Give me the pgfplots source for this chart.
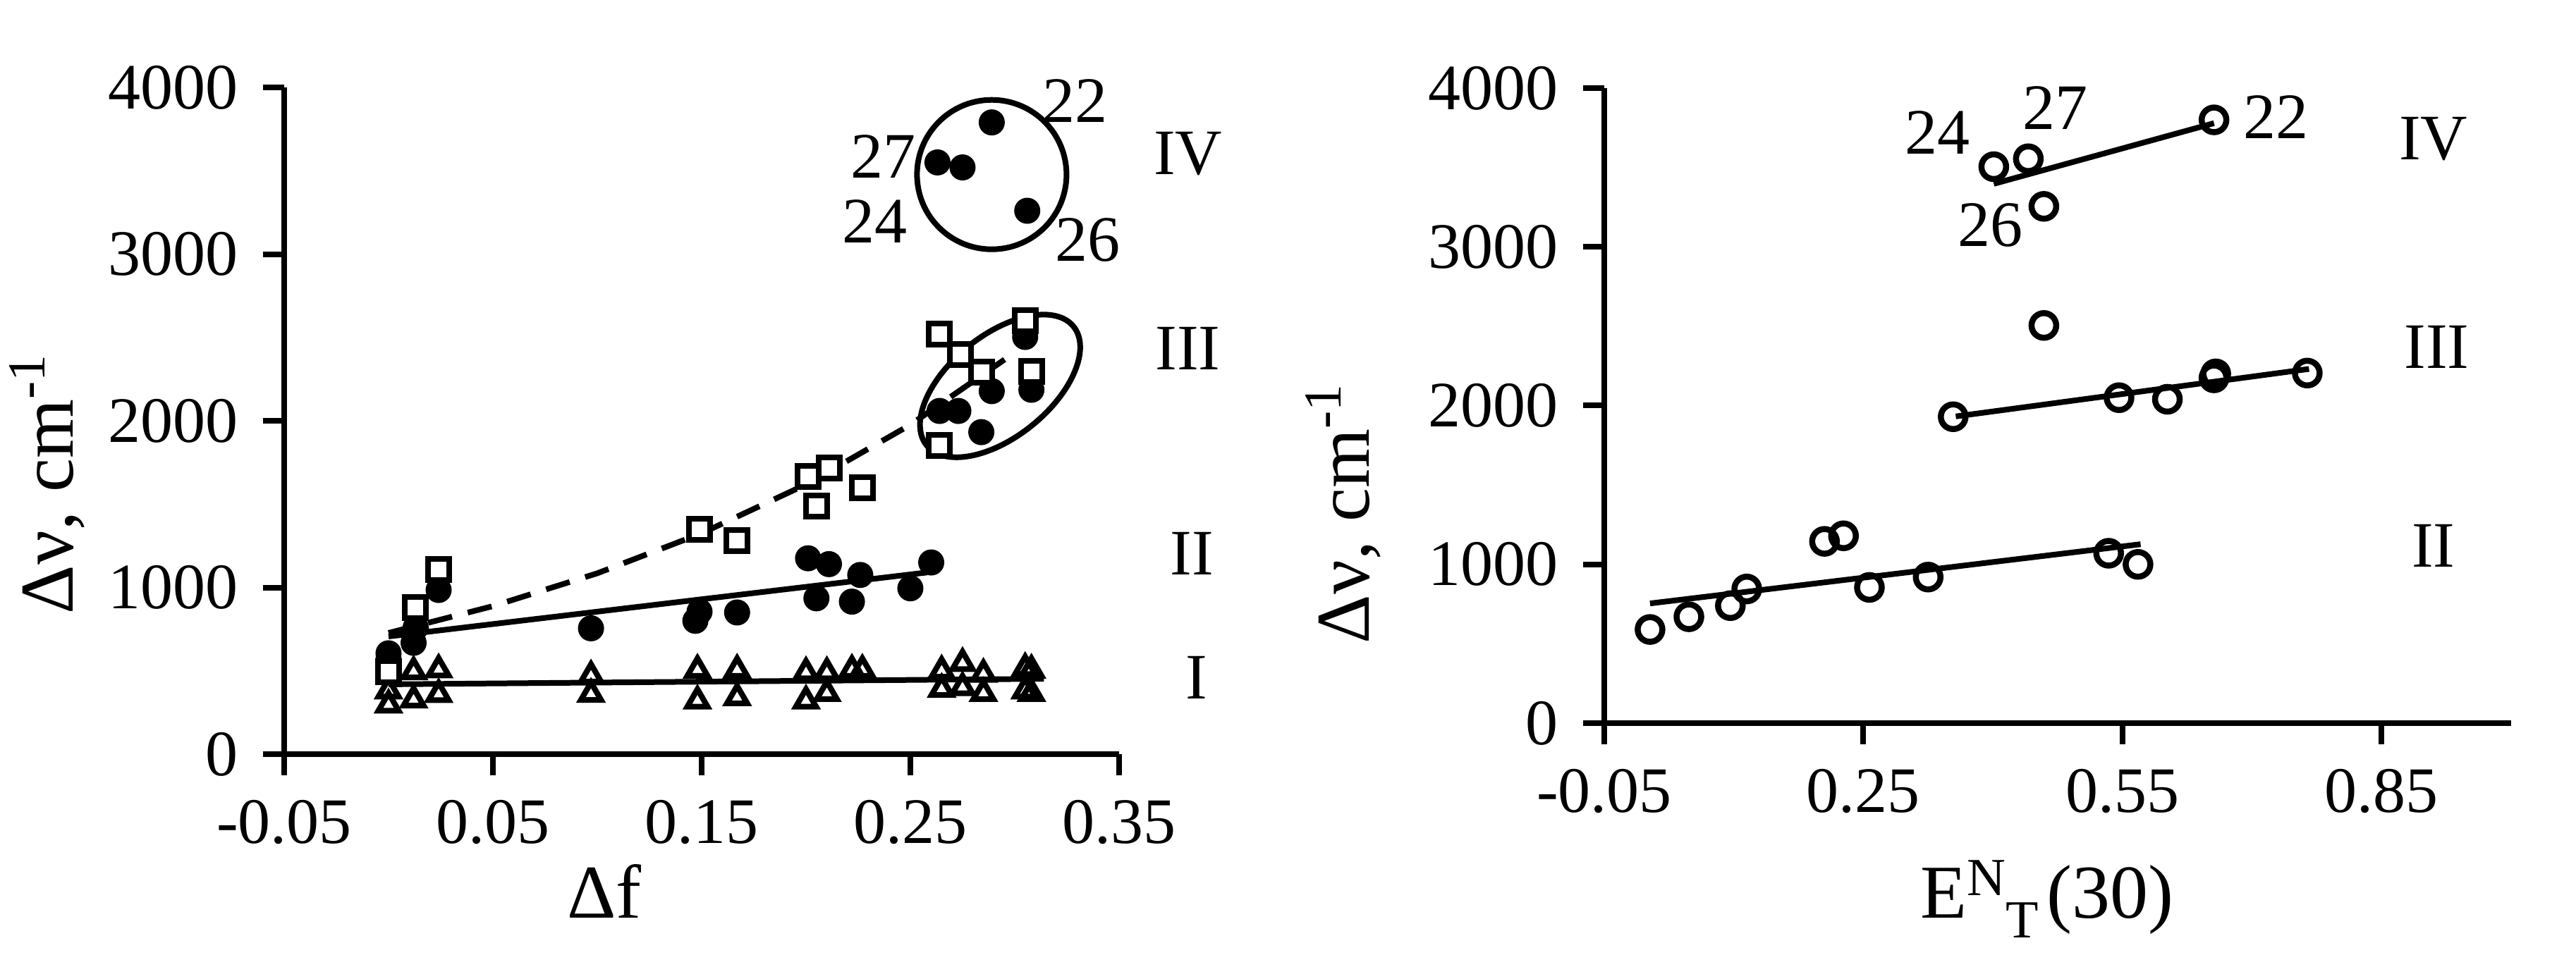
\documentclass[border=0pt]{standalone}
\usepackage{fontspec}
\setmainfont{Liberation Serif}
\usepackage{pgfplots}
\pgfplotsset{compat=1.18}
\usetikzlibrary{shapes.geometric}

\newcommand{\tickfont}{\fontsize{9.2}{11}\selectfont}
\newcommand{\labfont}{\fontsize{10.8}{13}\selectfont}

\tikzset{lbl/.style={font=\tickfont}}
\pgfplotsset{
  panel/.style={
    scale only axis,
    axis lines*=left,
    axis line style={line width=0.8pt,-},
    tick style={line width=0.8pt,black},
    major tick length=3pt,
    tick align=outside,
    ymin=0, ymax=4000,
    ytick={0,1000,2000,3000,4000},
    clip=false,
    /pgf/number format/assume math mode=true,
    ticklabel style={font=\tickfont},
    yticklabel style={/pgf/number format/1000 sep={}},
    xticklabel style={/pgf/number format/.cd,fixed,fixed zerofill,precision=2},
  },
}

\begin{document}
\begin{tikzpicture}
\path[use as bounding box] (0,0) rectangle (365.3pt,137.1pt);

% left panel: delta nu vs delta f
\begin{axis}[panel, at={(40.3pt,30.1pt)}, anchor=south west,
  width=118.4pt, height=94.6pt,
  xmin=-0.05, xmax=0.35, xtick={-0.05,0.05,0.15,0.25,0.35}]
% group I, triangles
\addplot[only marks, mark=triangle, mark size=1.65pt, mark options={line width=0.8pt}]
  coordinates {
  (0,296) (0,380) (0.012,495) (0.012,326) (0.024,507) (0.024,359)
  (0.097,470) (0.097,360) (0.148,505) (0.148,320) (0.167,505) (0.167,340)
  (0.200,490) (0.200,320) (0.210,490) (0.210,365) (0.222,505) (0.227,505)
  (0.265,500) (0.265,390) (0.275,545) (0.275,400) (0.285,480) (0.285,365)
  (0.305,515) (0.305,380) (0.308,505) (0.308,365)
  };
\addplot[no marks, line width=0.8pt] coordinates {(0,419) (0.314,452)};
% filled circles (groups II, III, IV)
\addplot[only marks, mark=*, mark size=1.75pt, mark options={line width=0.2pt}]
  coordinates {
  (0,605) (0,570) (0.012,668) (0.013,760) (0.024,985) (0.097,755)
  (0.147,800) (0.149,855) (0.167,850) (0.201,1175) (0.211,1140) (0.205,935)
  (0.226,1075) (0.222,915) (0.250,995) (0.260,1150)
  (0.264,2059) (0.273,2059) (0.284,1932) (0.289,2178) (0.305,2503) (0.308,2186)
  (0.289,3790) (0.263,3550) (0.275,3520) (0.306,3260)
  };
\addplot[no marks, line width=0.8pt] coordinates {(0,706) (0.258,1090)};
% trend of the squares
\addplot[no marks, line width=0.8pt, dash pattern=on 3.5pt off 2.3pt]
  coordinates {(0,727) (0.05,888) (0.10,1085) (0.15,1325) (0.20,1618) (0.25,1976) (0.296,2375)};
\addplot[only marks, mark=square*, mark size=1.5pt, mark options={fill=white, line width=0.8pt}]
  coordinates {
  (0,495) (0.013,880) (0.024,1108) (0.149,1350) (0.167,1280) (0.201,1665)
  (0.205,1490) (0.211,1715) (0.227,1600) (0.264,2520) (0.264,1852) (0.274,2397)
  (0.284,2292) (0.305,2600) (0.308,2296)
  };
\node[draw, circle, line width=0.8pt, minimum size=21.2pt, inner sep=0pt] at (axis cs:0.289,3477) {};
\node[draw, ellipse, rotate=39, line width=0.8pt, minimum width=26.8pt, minimum height=14.4pt, inner sep=0pt] at (axis cs:0.293,2209) {};
\node[lbl] at (axis cs:0.329,3918) {22};
\node[lbl] at (axis cs:0.237,3585) {27};
\node[lbl] at (axis cs:0.233,3196) {24};
\node[lbl] at (axis cs:0.335,3084) {26};
\node[lbl] at (axis cs:0.383,3603) {IV};
\node[lbl] at (axis cs:0.383,2435) {III};
\node[lbl] at (axis cs:0.385,1205) {II};
\node[lbl] at (axis cs:0.387,460) {I};
\end{axis}

% right panel: delta nu vs E_T^N(30)
\begin{axis}[panel, at={(227.5pt,34.5pt)}, anchor=south west,
  width=128.6pt, height=90.1pt,
  xmin=-0.05, xmax=1.0, xtick={-0.05,0.25,0.55,0.85}]
\addplot[only marks, mark=o, mark size=1.75pt, mark options={line width=0.85pt}]
  coordinates {
  (0.003,590) (0.048,670) (0.096,740) (0.115,845) (0.205,1145) (0.227,1180)
  (0.257,855) (0.325,920) (0.534,1070) (0.568,1000)
  (0.354,1930) (0.546,2050) (0.602,2040) (0.656,2175) (0.658,2200) (0.764,2205)
  (0.459,2505)
  (0.401,3505) (0.441,3555) (0.459,3255) (0.656,3800)
  };
\addplot[no marks, line width=0.8pt] coordinates {(0.003,754) (0.571,1127)};
\addplot[no marks, line width=0.8pt] coordinates {(0.357,1932) (0.766,2231)};
\addplot[no marks, line width=0.8pt] coordinates {(0.401,3397) (0.656,3779)};
\node[lbl] at (axis cs:0.336,3720) {24};
\node[lbl] at (axis cs:0.472,3876) {27};
\node[lbl] at (axis cs:0.728,3817) {22};
\node[lbl] at (axis cs:0.397,3137) {26};
\node[lbl] at (axis cs:0.910,3681) {IV};
\node[lbl] at (axis cs:0.914,2371) {III};
\node[lbl] at (axis cs:0.910,1116) {II};
\end{axis}

% axis titles
\node[rotate=90, anchor=base, font=\labfont] at (10.3pt,68.6pt) {Δν, cm\textsuperscript{-1}};
\node[rotate=90, anchor=base, font=\labfont] at (194.1pt,64.4pt) {Δν, cm\textsuperscript{-1}};
\node[anchor=base, font=\labfont] at (85.7pt,6.9pt) {Δf};
\node[anchor=base, font=\labfont] at (290.3pt,6.9pt)
  {E\raisebox{3.2pt}{\fontsize{7.6}{9}\selectfont N}\raisebox{-2.8pt}{\fontsize{7.6}{9}\selectfont T}\hspace{1.2pt}(30)};
\end{tikzpicture}
\end{document}
